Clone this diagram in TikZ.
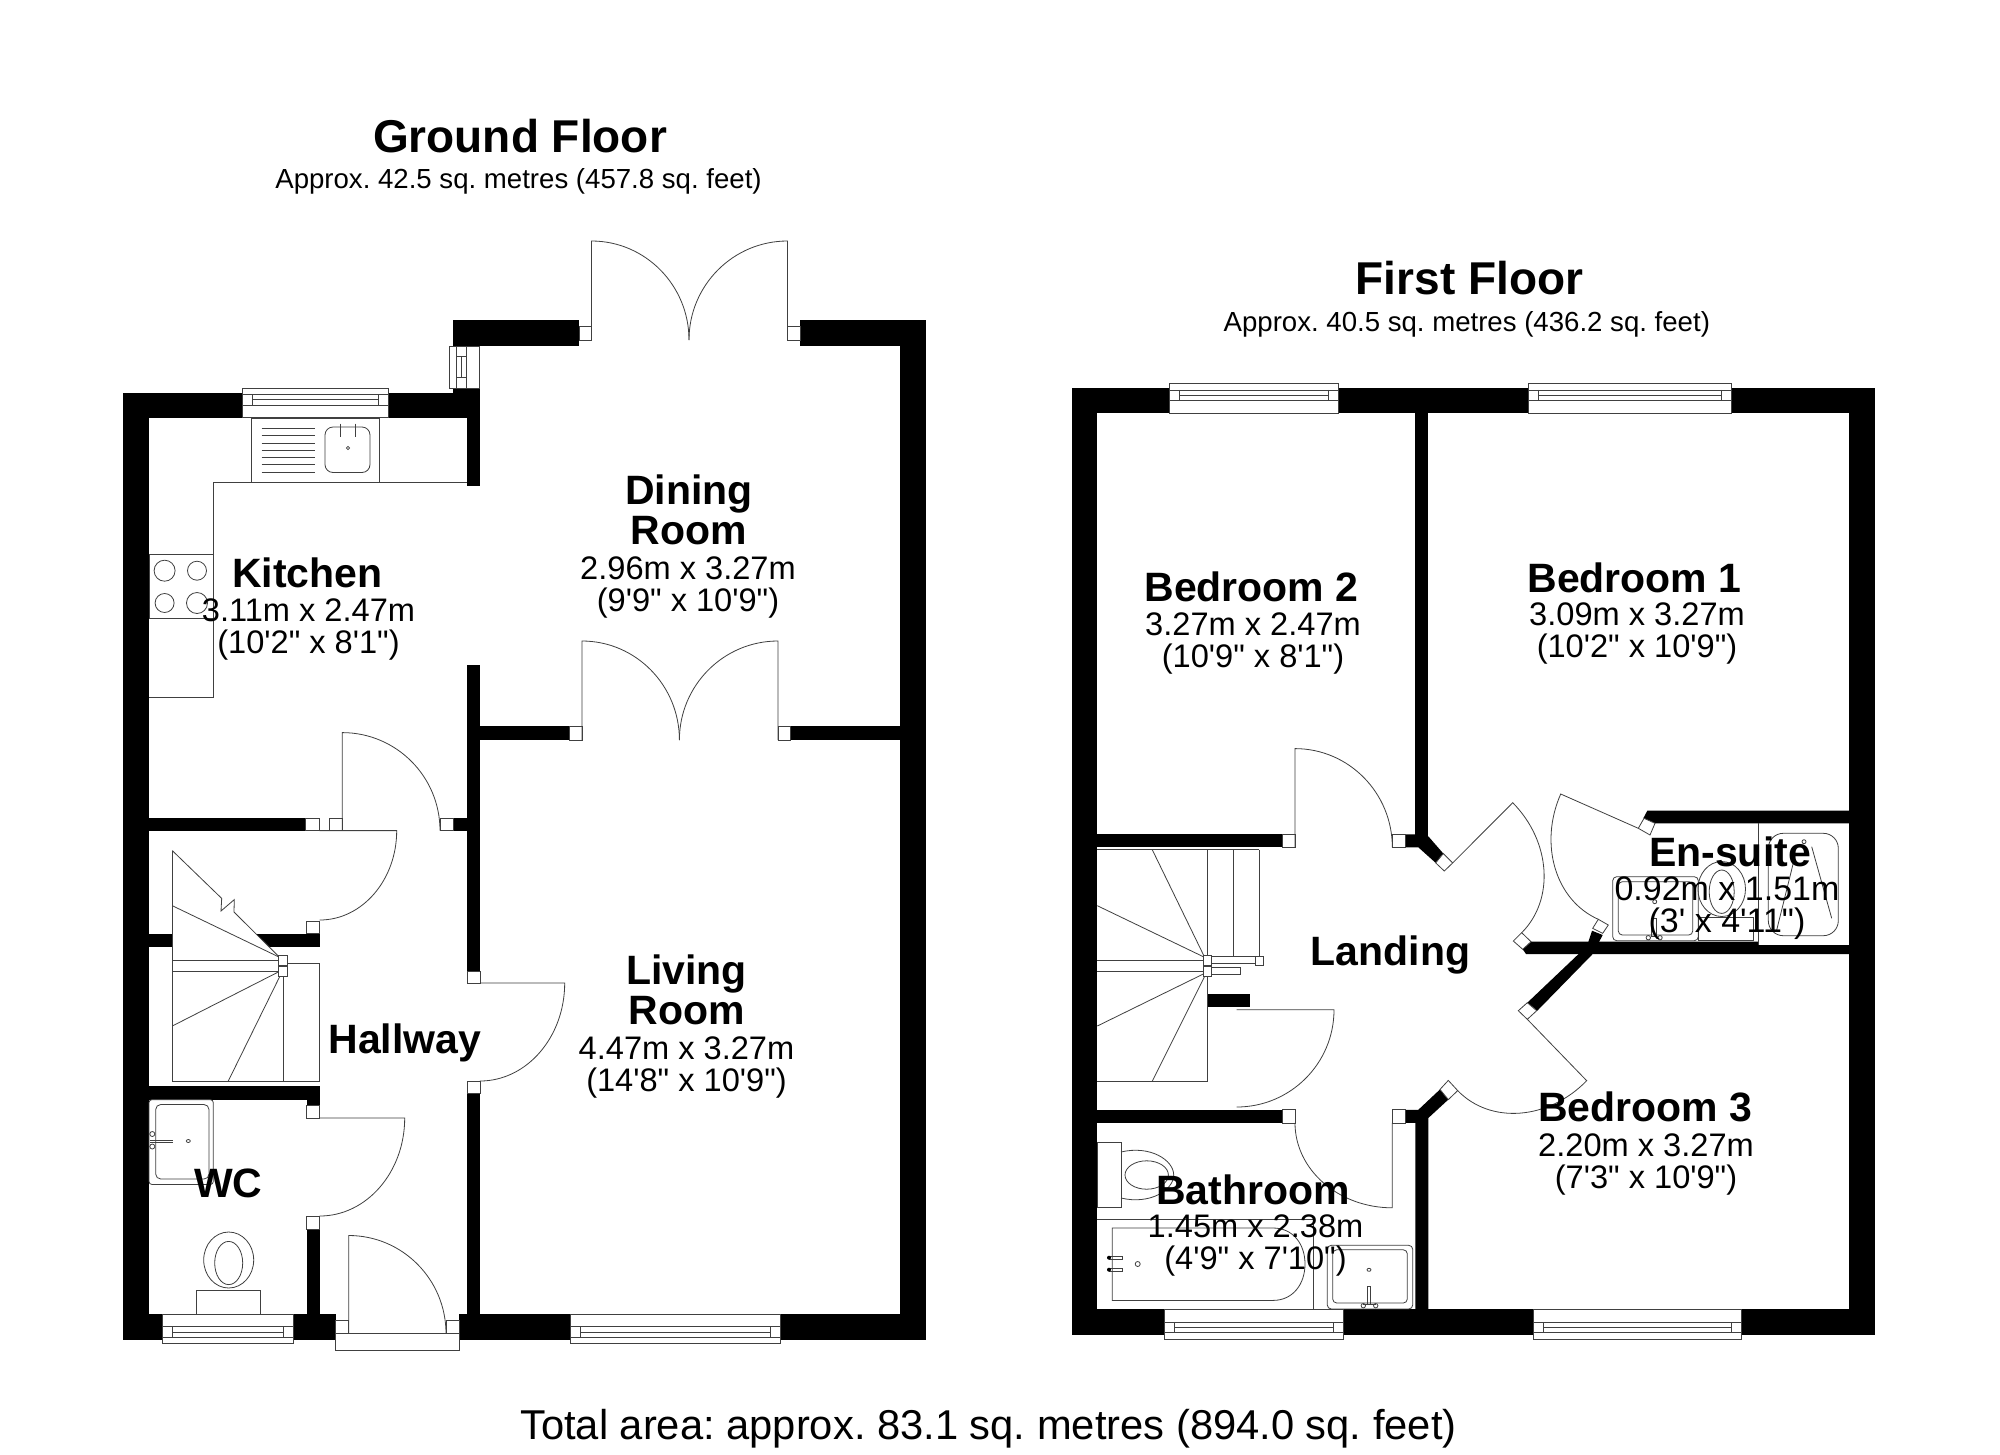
\documentclass[tikz,border=0pt]{standalone}
\usepackage{fontspec}
\setmainfont[Ligatures=TeXOff]{Liberation Sans}
\tikzstyle{wall}    = [
    fill=black
]
\tikzstyle{fitting} = [
    draw=black!75,
    line width=0.8pt
]
\tikzstyle{jamb}    = [
    draw=black!75,
    line width=0.8pt,
    fill=white
]
\tikzstyle{floortitle} = [
    font=\bfseries\fontsize{46}{46}\selectfont,
    inner sep=0pt
]
\tikzstyle{floorarea}  = [
    font=\fontsize{27.6}{30}\selectfont,
    inner sep=0pt
]
\tikzstyle{roomtitle}  = [
    font=\bfseries\fontsize{41}{40}\selectfont,
    align=center,
    inner sep=0pt
]
\tikzstyle{roomsize}   = [
    font=\fontsize{32.6}{32}\selectfont,
    align=center,
    inner sep=0pt
]
\newcommand{\doorleaf}[6]{
  \draw[fitting] (#1,#2) -- (#3,#4)
    .. controls ({#3+0.552*(#5-#1)},{#4+0.552*(#6-#2)}) and ({#5+0.552*(#3-#1)},{#6+0.552*(#4-#2)}) .. (#5,#6);
}
\newcommand{\windowh}[4]{
  \draw[jamb] (#1,#3) rectangle (#2,#4);
  \draw[fitting] (#1,{#4+0.22*(#3-#4)}) -- (#2,{#4+0.22*(#3-#4)});
  \draw[fitting] (#1,{#4+0.58*(#3-#4)}) -- (#2,{#4+0.58*(#3-#4)});
  \draw[fitting] ({#1+10},{#4+0.22*(#3-#4)}) -- ({#1+10},{#4+0.58*(#3-#4)});
  \draw[fitting] ({#2-10},{#4+0.22*(#3-#4)}) -- ({#2-10},{#4+0.58*(#3-#4)});
  \draw[fitting] ({#1+10},{#4+0.39*(#3-#4)}) -- ({#2-10},{#4+0.39*(#3-#4)});
}
\begin{document}
\frenchspacing
\begin{tikzpicture}[x=1pt, y=-1pt]
\useasboundingbox (0,0) rectangle (2000,1454);
\fill[white] (0,0) rectangle (2000,1454);

% ground floor walls
\fill[wall] (123,392.5) rectangle (149,1340);
\fill[wall] (123,392.5) rectangle (480,418);
\fill[wall] (453,388) rectangle (480,392.5);
\fill[wall] (467,418) rectangle (480,486);
\fill[wall] (453,320) rectangle (579,346);
\fill[wall] (800,320) rectangle (925.7,346);
\fill[wall] (900,320) rectangle (925.7,1340);
\fill[wall] (467,665) rectangle (480,971);
\fill[wall] (480,726) rectangle (569.6,740);
\fill[wall] (790,726) rectangle (900,740);
\fill[wall] (149,818.4) rectangle (305.7,830.6);
\fill[wall] (453,818.4) rectangle (467,830.6);
\fill[wall] (149,933.5) rectangle (319.7,946.5);
\fill[wall] (149,1086) rectangle (319.7,1099.6);
\fill[wall] (306.7,1099.6) rectangle (319.7,1105.7);
\fill[wall] (306.7,1229) rectangle (319.7,1314);
\fill[wall] (467,1093.5) rectangle (480,1314);
\fill[wall] (123,1314) rectangle (335.7,1340);
\fill[wall] (459.3,1314) rectangle (925.7,1340);

% first floor walls
\fill[wall] (1071.7,388) rectangle (1097.3,1335);
\fill[wall] (1071.7,388) rectangle (1875,413);
\fill[wall] (1849,388) rectangle (1875,1335);
\fill[wall] (1071.7,1309) rectangle (1875,1335);
\fill[wall] (1415.3,413) rectangle (1428.3,836.3);
\fill[wall] (1097,834.3) rectangle (1282.3,847.3);
\fill[wall] (1405.7,834.3) -- (1415.3,834.3) -- (1428.3,836.3) -- (1443.3,853.5) -- (1435.7,862.9) -- (1418.3,847.3) -- (1405.7,847.3) -- cycle;
\fill[wall] (1097,1109.8) rectangle (1282.3,1122.9);
\fill[wall] (1405.7,1109.8) -- (1418.3,1109.8) -- (1440,1089.4) -- (1448.3,1099.6) -- (1428.3,1118) -- (1428.3,1309) -- (1415.3,1309) -- (1415.3,1122.9) -- (1405.7,1122.9) -- cycle;
\fill[wall] (1207.3,993.5) rectangle (1250,1007);
\fill[wall] (1643.3,818.3) -- (1647.3,810.7) -- (1849,810.7) -- (1849,823.3) -- (1655,823.3) -- cycle;
\fill[wall] (1522.7,949.3) -- (1531,941.7) -- (1758.3,941.7) -- (1758.3,945) -- (1849,945) -- (1849,954) -- (1526,954) -- cycle;
\fill[wall] (1592,930.7) -- (1602.7,935) -- (1592.7,954) -- (1537.3,1010.7) -- (1527.3,1002.7) -- (1587,946) -- cycle;

% ground floor stairs
\fill[white] (172.3,850.6) -- (221.7,898.4) -- (221,911) -- (234.3,899.6) -- (234,912) -- (278.3,956) -- (278.3,960) -- (172.3,960) -- cycle;
\draw[fitting] (172.3,850.6) -- (221.7,898.4) -- (221,911) -- (234.3,899.6) -- (234,912) -- (278.3,956);
\draw[fitting] (172.3,850.6) -- (172.3,1081) -- (319.3,1081) -- (319.3,963) -- (287.7,963);
\draw[fitting] (172.3,905.7) -- (278.3,956.7);
\draw[fitting] (172.3,960) -- (278.3,960);
\draw[fitting] (172.3,971) -- (278.3,971);
\draw[fitting] (172.3,1026) -- (278.3,972);
\draw[fitting] (228.3,1081) -- (280,976);
\draw[fitting] (283,976) -- (283,1081);
\draw[jamb] (278.3,955.5) rectangle (287.7,965);
\draw[jamb] (278.3,966) rectangle (287.7,976);

% first floor stairs
\draw[fitting] (1097,849.8) -- (1259,849.8);
\draw[fitting] (1207.7,849.8) -- (1207.7,956);
\draw[fitting] (1207.7,976) -- (1207.7,1081) -- (1097,1081);
\draw[fitting] (1233,849.8) -- (1233,956.7);
\draw[fitting] (1259,849.8) -- (1259,956);
\draw[fitting] (1152.3,849.8) -- (1204,956);
\draw[fitting] (1097.3,905.7) -- (1203.3,956.7);
\draw[fitting] (1097.3,960) -- (1203.3,960);
\draw[fitting] (1097.3,971) -- (1203.3,971);
\draw[fitting] (1097.3,1026) -- (1203.3,974);
\draw[fitting] (1152.3,1081.2) -- (1204.3,977);
\draw[jamb] (1211.7,956.7) rectangle (1255,963.7);
\draw[jamb] (1211.7,967.8) rectangle (1240.3,974.7);
\draw[jamb] (1255,956) rectangle (1263.3,965);
\draw[jamb] (1203.3,955.5) rectangle (1211.7,965);
\draw[jamb] (1203.3,966) rectangle (1211.7,976);

% ground floor door jambs
\draw[jamb] (579,326) rectangle (591.5,340);
\draw[jamb] (787.5,326) rectangle (800,340);
\draw[jamb] (569.6,726) rectangle (582,740);
\draw[jamb] (778,726) rectangle (790,740);
\draw[jamb] (305.7,818.4) rectangle (319.7,830.6);
\draw[jamb] (329,818.4) rectangle (342.3,830.6);
\draw[jamb] (440,818.4) rectangle (453,830.6);
\draw[jamb] (306,921) rectangle (319.7,933.5);
\draw[jamb] (467,971) rectangle (480,983);
\draw[jamb] (467,1081) rectangle (480,1093.5);
\draw[jamb] (306.7,1105.7) rectangle (319.7,1118);
\draw[jamb] (306.7,1216) rectangle (319.7,1229);
\draw[jamb] (335.7,1320) rectangle (348.7,1333.5);
\draw[jamb] (446.7,1320) rectangle (459.3,1333.5);
\draw[jamb] (335.7,1333.5) rectangle (459.3,1350.6);

% first floor door jambs
\draw[jamb] (1282.3,834.3) rectangle (1295,847.3);
\draw[jamb] (1392.3,834.3) rectangle (1405.7,847.3);
\draw[jamb] (1282.3,1109.8) rectangle (1295,1122.9);
\draw[jamb] (1392.3,1109.8) rectangle (1405.7,1122.9);
\draw[jamb] (1443.3,853.5) -- (1452.7,862.9) -- (1444.3,871) -- (1435.7,862.9) -- cycle;
\draw[jamb] (1513.3,941) -- (1521.7,932.7) -- (1531,941.7) -- (1522.7,949.3) -- cycle;
\draw[jamb] (1638.3,828.3) -- (1644,818.3) -- (1655,823.3) -- (1650,835) -- cycle;
\draw[jamb] (1592.7,928.3) -- (1598.3,919.3) -- (1608.3,925) -- (1602.7,933.3) -- cycle;
\draw[jamb] (1518.3,1010.7) -- (1527.3,1002.7) -- (1536.7,1010.7) -- (1527.3,1019.3) -- cycle;
\draw[jamb] (1440,1089.4) -- (1448.3,1080.4) -- (1457.7,1090.6) -- (1448.3,1099.6) -- cycle;

% door leaves
\doorleaf{591.5}{340}{591.5}{241}{689}{340}
\doorleaf{787.5}{340}{787.5}{241}{689}{340}
\doorleaf{582}{740}{582}{641}{679.4}{740}
\doorleaf{778}{740}{778}{641}{679.4}{740}
\doorleaf{342.3}{830.6}{342.3}{732.6}{440}{830.6}
\doorleaf{319.7}{830.6}{396.7}{830.6}{319.7}{920}
\doorleaf{480}{983}{564.7}{983}{480}{1081}
\doorleaf{319.7}{1118}{404.7}{1118}{319.7}{1216}
\doorleaf{348.7}{1333.5}{348.7}{1235.5}{446}{1333.5}
\doorleaf{1295}{847.3}{1295}{748.6}{1392.3}{847.3}
\doorleaf{1452.7}{862.9}{1512.7}{802.7}{1521.7}{932.7}
\doorleaf{1638.3}{828.3}{1560.7}{794}{1598.3}{919.3}
\doorleaf{1527.3}{1019.3}{1586.7}{1080.7}{1457.7}{1090.6}
\doorleaf{1392.3}{1122.9}{1392.3}{1207.8}{1295}{1122.9}
\doorleaf{1236.7}{1009.8}{1334}{1009.8}{1236.7}{1107}

% windows
\windowh{242}{388.5}{417.5}{388}
\windowh{162.3}{293.7}{1314}{1343.7}
\windowh{570}{780.6}{1314}{1343.7}
\windowh{1169.3}{1338.3}{413.3}{383.3}
\windowh{1528}{1731}{413.3}{383.3}
\windowh{1164}{1343.3}{1309.3}{1339.3}
\windowh{1533}{1741}{1309.3}{1339.3}
\draw[jamb] (449.3,346) rectangle (479.3,388);
\draw[fitting] (456,346) -- (456,388);
\draw[fitting] (466.7,346) -- (466.7,388);
\draw[fitting] (456,356) -- (466.7,356);
\draw[fitting] (456,377.7) -- (466.7,377.7);
\draw[fitting] (461.7,356) -- (461.7,377.7);

% kitchen units
\draw[fitting] (467,482.5) -- (213.4,482.5) -- (213.4,697) -- (149,697);
\draw[fitting] (251,418) rectangle (379.4,482.5);
\foreach \drainy in {428,435.4,443,450,457.5,464.6,472.5}
  \draw[fitting] (261.6,\drainy) -- (315,\drainy);
\draw[fitting, rounded corners=8pt] (325,427) rectangle (370,472.5);
\draw[fitting] (340,423.5) -- (340,437);
\draw[fitting] (355,423.5) -- (355,437);
\draw[fitting] (348,448) circle (1.6);
\draw[fitting] (149,554) rectangle (213.4,618.6);
\draw[fitting] (164.6,570.7) circle (10.5);
\draw[fitting] (197,570.7) circle (9.5);
\draw[fitting] (164.6,603) circle (9.5);
\draw[fitting] (197,603) circle (10.5);

% wc fittings
\draw[fitting, rounded corners=3pt] (149,1099.6) rectangle (213.3,1184.5);
\draw[fitting, rounded corners=5pt] (155.7,1104.5) rectangle (209,1179);
\draw[fitting] (150,1140) -- (172.7,1140);
\draw[fitting] (150,1142) -- (172.7,1142);
\draw[fitting] (152.3,1134) circle (2.5);
\draw[fitting] (152.3,1146.5) circle (2.5);
\draw[fitting] (188.3,1141) ellipse (2 and 1.5);
\draw[fitting] (228.7,1260) ellipse (25 and 28);
\draw[fitting] (228.7,1263) ellipse (14 and 21.6);
\draw[jamb] (196.3,1290) rectangle (260.7,1314);

% bathroom fittings
\draw[fitting] (1097,1142.4) rectangle (1121,1207);
\draw[fitting] (1121,1152) .. controls (1150,1145) and (1173.7,1160) .. (1173.7,1175) .. controls (1173.7,1190) and (1150,1205) .. (1121,1198);
\draw[fitting] (1146.7,1175) ellipse (21.7 and 14.2);
\draw[fitting] (1097,1219) -- (1313.3,1219) -- (1313.3,1309);
\draw[fitting] (1273,1228) -- (1112.3,1228) -- (1112.3,1300.4) -- (1273,1300.4) .. controls (1293,1300.4) and (1305,1284) .. (1305,1264) .. controls (1305,1244) and (1293,1228) .. (1273,1228);
\draw[fitting] (1109,1256) rectangle (1122.7,1259.5);
\draw[fitting] (1109,1268) rectangle (1122.7,1271.5);
\fill[black] (1109,1257.7) circle (2);
\fill[black] (1109,1269.7) circle (2);
\draw[fitting] (1137.7,1264) circle (2.5);
\draw[fitting, rounded corners=4pt] (1327.3,1245.3) rectangle (1412.7,1309);
\draw[fitting, rounded corners=4pt] (1332.7,1249.8) rectangle (1407.3,1303);
\draw[fitting] (1369,1269.8) ellipse (2 and 1.5);
\draw[fitting] (1367.3,1286) rectangle (1370.7,1304.5);
\draw[fitting] (1363.3,1305.7) circle (2.2);
\draw[fitting] (1375.7,1305.7) circle (2.2);
\draw[fitting] (1363.3,1304) -- (1375.7,1304);

% en-suite fittings
\draw[fitting, rounded corners=4pt] (1612.7,876.7) rectangle (1698.3,940.7);
\draw[fitting, rounded corners=4pt] (1618.3,881.7) rectangle (1692.7,935);
\draw[fitting] (1654.7,901.7) circle (2);
\draw[fitting] (1651.7,918.3) rectangle (1656,936.7);
\draw[fitting] (1648.3,937.7) circle (2.2);
\draw[fitting] (1660,937.7) circle (2.2);
\draw[fitting] (1721.7,889) ellipse (23.8 and 27.5);
\draw[fitting] (1721.7,891.7) ellipse (12.5 and 21.7);
\draw[jamb] (1698.3,917.3) rectangle (1753.3,940.7);
\draw[fitting] (1758.7,823) -- (1758.7,945);
\draw[fitting, rounded corners=15pt] (1768.3,833.3) rectangle (1838.3,935.7);
\draw[fitting] (1804,841.7) circle (2);
\draw[fitting] (1793.3,863) -- (1776.7,930);
\draw[fitting] (1811.7,846.7) -- (1831.7,918.3);

% labels
\node[floortitle] (groundtitle) at (520,136.5) {Ground Floor};
\node[floorarea]  (groundarea)  at (518.5,181.5) {Approx. 42.5 sq. metres (457.8 sq. feet)};
\node[floortitle] (firsttitle)  at (1469.4,278) {First Floor};
\node[floorarea]  (firstarea)   at (1466.8,323.9) {Approx. 40.5 sq. metres (436.2 sq. feet)};
\node[roomtitle]  (kitchen)     at (307.4,572.7) {Kitchen};
\node[roomsize]   (kitchensize) at (308.5,629.7) {3.11m x 2.47m\\(10'2" x 8'1")};
\node[roomtitle]  (dining)      at (688.8,509.8) {Dining\\Room};
\node[roomsize]   (diningsize)  at (688,587.5) {2.96m x 3.27m\\(9'9" x 10'9")};
\node[roomtitle]  (hallway)     at (404.8,1042.5) {Hallway};
\node[roomtitle]  (living)      at (686.5,990) {Living\\Room};
\node[roomsize]   (livingsize)  at (686.5,1067) {4.47m x 3.27m\\(14'8" x 10'9")};
\node[roomtitle]  (wc)          at (228.3,1183.6) {WC};
\node[roomtitle]  (bedtwo)      at (1251.5,586.7) {Bedroom 2};
\node[roomsize]   (bedtwosize)  at (1253,643.7) {3.27m x 2.47m\\(10'9" x 8'1")};
\node[roomtitle]  (bedone)      at (1634.5,577.8) {Bedroom 1};
\node[roomsize]   (bedonesize)  at (1637,633.5) {3.09m x 3.27m\\(10'2" x 10'9")};
\node[roomtitle]  (landing)     at (1390.5,955) {Landing};
\node[roomtitle]  (ensuite)     at (1730,852) {En-suite};
\node[roomsize, font=\fontsize{34}{32}\selectfont] (ensuitesize) at (1727,908) {0.92m x 1.51m\\(3' x 4'11")};
\node[roomtitle]  (bedthree)    at (1645.4,1107) {Bedroom 3};
\node[roomsize]   (bedthreesize) at (1646,1164) {2.20m x 3.27m\\(7'3" x 10'9")};
\node[roomtitle]  (bathroom)    at (1253,1190) {Bathroom};
\node[roomsize]   (bathroomsize) at (1255.5,1245.7) {1.45m x 2.38m\\(4'9" x 7'10")};
\node[font=\fontsize{41.7}{42}\selectfont, inner sep=0pt] (totalarea) at (988.5,1428.2) {Total area: approx. 83.1 sq. metres (894.0 sq. feet)};
\end{tikzpicture}
\end{document}
